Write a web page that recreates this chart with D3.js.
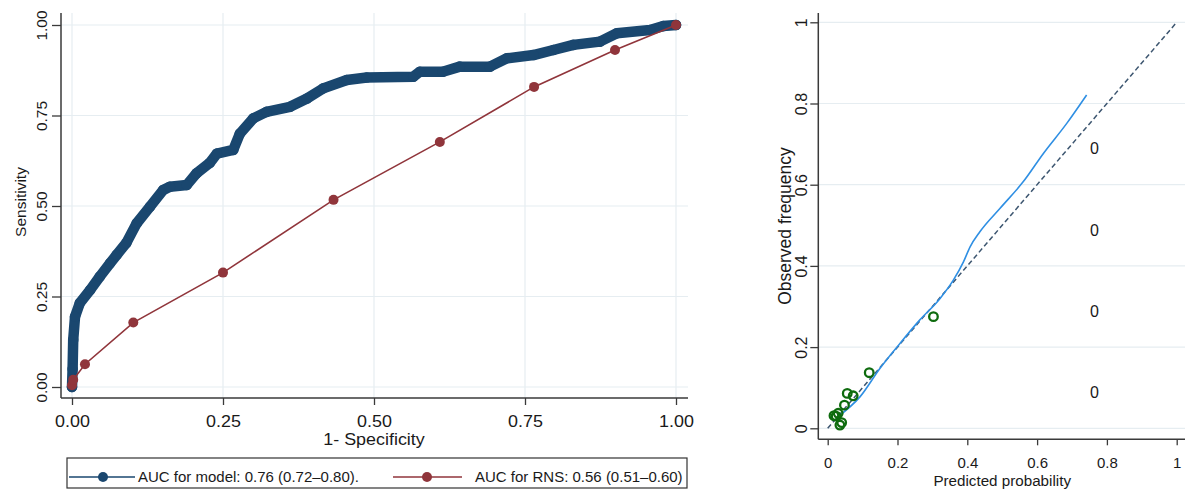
<!DOCTYPE html>
<html><head><meta charset="utf-8">
<script src="https://cdn.jsdelivr.net/npm/d3@7"></script>
<style>
body{margin:0;background:#fff}
svg{display:block}
text{font-family:"Liberation Sans",Arial,sans-serif;fill:#1a1a1a}
</style>
</head><body>
<svg id="c" width="1185" height="490"></svg>
<script>
// ---------- data ----------
const rocTicks = [0, 0.25, 0.5, 0.75, 1];
const rocTickLabels = ["0.00", "0.25", "0.50", "0.75", "1.00"];
const rocXTitle = "1- Specificity";
const rocYTitle = "Sensitivity";

const modelFpr = [0, 0.001, 0.002, 0.005, 0.013, 0.03, 0.046, 0.063, 0.074, 0.09, 0.107, 0.129, 0.151, 0.162, 0.19, 0.206, 0.228, 0.24, 0.267, 0.278, 0.30, 0.322, 0.361, 0.389, 0.416, 0.455, 0.488, 0.565, 0.576, 0.614, 0.642, 0.692, 0.72, 0.764, 0.797, 0.83, 0.874, 0.902, 0.957, 0.979, 1];
const modelTpr = [0, 0.05, 0.13, 0.194, 0.232, 0.268, 0.305, 0.342, 0.365, 0.398, 0.452, 0.498, 0.544, 0.553, 0.558, 0.59, 0.619, 0.645, 0.655, 0.70, 0.742, 0.76, 0.774, 0.797, 0.825, 0.848, 0.855, 0.857, 0.871, 0.871, 0.885, 0.885, 0.908, 0.917, 0.931, 0.945, 0.954, 0.977, 0.986, 0.997, 1];

const rnsFpr = [0, 0.002, 0.0215, 0.1015, 0.25, 0.433, 0.609, 0.765, 0.899, 1];
const rnsTpr = [0.005, 0.02, 0.063, 0.178, 0.316, 0.517, 0.677, 0.829, 0.931, 1];

const legendLabels = ["AUC for model: 0.76 (0.72\u20130.80).", "AUC for RNS: 0.56 (0.51\u20130.60)"];

const calTicks = [0, 0.2, 0.4, 0.6, 0.8, 1];
const calTickLabels = ["0", "0.2", "0.4", "0.6", "0.8", "1"];
const calXTitle = "Predicted probability";
const calYTitle = "Observed frequency";

const decilePred = [0.018, 0.024, 0.030, 0.035, 0.040, 0.048, 0.056, 0.073, 0.119, 0.303];
const decileObs  = [0.031, 0.030, 0.037, 0.008, 0.014, 0.057, 0.086, 0.080, 0.137, 0.275];

const lowessX = [0.030, 0.093, 0.150, 0.207, 0.264, 0.322, 0.360, 0.389, 0.408, 0.436, 0.494, 0.560, 0.618, 0.685, 0.742];
const lowessY = [0.029, 0.078, 0.148, 0.209, 0.267, 0.320, 0.365, 0.410, 0.447, 0.484, 0.542, 0.607, 0.677, 0.751, 0.821];

const refLine = [0, 1];

const annotX = [0.764, 0.764, 0.764, 0.764];
const annotY = [0.690, 0.488, 0.289, 0.090];
const annotText = ["0", "0", "0", "0"];

// ---------- styles ----------
const NAVY = "#1a476f", MAROON = "#90353b", GRID = "#e6edf1", AXIS = "#3a3a3a";
const GREEN = "#0e6b0e", BLUE = "#2f8fe3", DASH = "#3d5670";

const svg = d3.select("#c");
svg.append("rect").attr("width", 1185).attr("height", 490).attr("fill", "#fff");

// ================= LEFT: ROC =================
const L = {left: 61, right: 688, top: 13, bottom: 398};
const xL = d3.scaleLinear().domain([0, 1]).range([72, 676]);
const yL = d3.scaleLinear().domain([0, 1]).range([387, 25]);
const gL = svg.append("g");

// grid
gL.append("g").selectAll("line.v").data(rocTicks).join("line")
  .attr("x1", d => xL(d)).attr("x2", d => xL(d)).attr("y1", L.top).attr("y2", L.bottom)
  .attr("stroke", GRID).attr("stroke-width", 1.2);
gL.append("g").selectAll("line.h").data(rocTicks).join("line")
  .attr("y1", d => yL(d)).attr("y2", d => yL(d)).attr("x1", L.left).attr("x2", L.right)
  .attr("stroke", GRID).attr("stroke-width", 1.2);

// axes
const axL = gL.append("g").attr("transform", `translate(${L.left},0)`)
  .call(d3.axisLeft(yL).tickValues(rocTicks).tickFormat((d, i) => rocTickLabels[i]).tickSize(9).tickSizeOuter(0));
axL.select(".domain").remove();
axL.selectAll(".tick line").attr("stroke", AXIS).attr("stroke-width", 1.3);
axL.selectAll(".tick text").attr("x", 0).attr("y", -14).attr("dy", null)
  .attr("transform", "rotate(-90)").attr("text-anchor", "middle")
  .style("font-size", "15.5px").attr("fill", "#1a1a1a");

const axB = gL.append("g").attr("transform", `translate(0,${L.bottom})`)
  .call(d3.axisBottom(xL).tickValues(rocTicks).tickFormat((d, i) => rocTickLabels[i]).tickSize(7).tickSizeOuter(0));
axB.select(".domain").remove();
axB.selectAll(".tick line").attr("stroke", AXIS).attr("stroke-width", 1.3);
axB.selectAll(".tick text").attr("y", 0).attr("dy", null)
  .attr("transform", "translate(0,29) scale(1.12,1)")
  .style("font-size", "16px").attr("fill", "#1a1a1a");

gL.append("line").attr("x1", L.left).attr("x2", L.left).attr("y1", L.top).attr("y2", L.bottom)
  .attr("stroke", AXIS).attr("stroke-width", 1.5);
gL.append("line").attr("x1", L.left).attr("x2", L.right).attr("y1", L.bottom).attr("y2", L.bottom)
  .attr("stroke", AXIS).attr("stroke-width", 1.5);

// titles
gL.append("text").attr("transform", `translate(${xL(0.5)},445) scale(1.12,1)`)
  .attr("text-anchor", "middle").style("font-size", "16px").text(rocXTitle);
gL.append("text").attr("transform", `translate(26,202) rotate(-90)`)
  .attr("text-anchor", "middle").style("font-size", "15.5px").text(rocYTitle);

// model curve
const modelPts = modelFpr.map((f, i) => [f, modelTpr[i]]);
const lineL = d3.line().x(d => xL(d[0])).y(d => yL(d[1]));
gL.append("path").datum(modelPts).attr("d", lineL)
  .attr("fill", "none").attr("stroke", NAVY).attr("stroke-width", 10.5)
  .attr("stroke-linejoin", "round").attr("stroke-linecap", "round");
gL.append("g").selectAll("circle").data(modelPts).join("circle")
  .attr("cx", d => xL(d[0])).attr("cy", d => yL(d[1])).attr("r", 5.3).attr("fill", NAVY);

// RNS curve
const rnsPts = rnsFpr.map((f, i) => [f, rnsTpr[i]]);
gL.append("path").datum(rnsPts).attr("d", lineL)
  .attr("fill", "none").attr("stroke", MAROON).attr("stroke-width", 1.6);
gL.append("g").selectAll("circle").data(rnsPts).join("circle")
  .attr("cx", d => xL(d[0])).attr("cy", d => yL(d[1])).attr("r", 5).attr("fill", MAROON);

// legend
const lg = svg.append("g");
lg.append("rect").attr("x", 67).attr("y", 458).attr("width", 620).attr("height", 30)
  .attr("fill", "#fff").attr("stroke", "#333").attr("stroke-width", 1.2);
const legItems = [
  {color: NAVY, x1: 69, x2: 135, cx: 103, tx: 138},
  {color: MAROON, x1: 393, x2: 462, cx: 427, tx: 475}
];
legItems.forEach((it, i) => {
  lg.append("line").attr("x1", it.x1).attr("x2", it.x2).attr("y1", 477).attr("y2", 477)
    .attr("stroke", it.color).attr("stroke-width", 1.6);
  lg.append("circle").attr("cx", it.cx).attr("cy", 477).attr("r", 5).attr("fill", it.color);
  lg.append("text").attr("x", it.tx).attr("y", 482).style("font-size", "15px").text(legendLabels[i]);
});

// ================= RIGHT: Calibration =================
const R = {left: 818.3, right: 1185, top: 13, bottom: 439.3};
const xR = d3.scaleLinear().domain([0, 1]).range([827.7, 1176.7]);
const yR = d3.scaleLinear().domain([0, 1]).range([428.3, 22.3]);
const gR = svg.append("g");

gR.append("g").selectAll("line").data(calTicks).join("line")
  .attr("y1", d => yR(d)).attr("y2", d => yR(d)).attr("x1", R.left).attr("x2", R.right)
  .attr("stroke", GRID).attr("stroke-width", 1.2);

const axRL = gR.append("g").attr("transform", `translate(${R.left},0)`)
  .call(d3.axisLeft(yR).tickValues(calTicks).tickFormat((d, i) => calTickLabels[i]).tickSize(8).tickSizeOuter(0));
axRL.select(".domain").remove();
axRL.selectAll(".tick line").attr("stroke", AXIS).attr("stroke-width", 1.3);
axRL.selectAll(".tick text").attr("x", 0).attr("y", -11).attr("dy", null)
  .attr("transform", "rotate(-90)").attr("text-anchor", "middle")
  .style("font-size", "16px").attr("fill", "#1a1a1a");

const axRB = gR.append("g").attr("transform", `translate(0,${R.bottom})`)
  .call(d3.axisBottom(xR).tickValues(calTicks).tickFormat((d, i) => calTickLabels[i]).tickSize(6).tickSizeOuter(0));
axRB.select(".domain").remove();
axRB.selectAll(".tick line").attr("stroke", AXIS).attr("stroke-width", 1.3);
axRB.selectAll(".tick text").attr("y", 29).attr("dy", null)
  .style("font-size", "15px").attr("fill", "#1a1a1a");

gR.append("line").attr("x1", R.left).attr("x2", R.left).attr("y1", R.top).attr("y2", R.bottom)
  .attr("stroke", AXIS).attr("stroke-width", 1.5);
gR.append("line").attr("x1", R.left).attr("x2", R.right).attr("y1", R.bottom).attr("y2", R.bottom)
  .attr("stroke", AXIS).attr("stroke-width", 1.5);

gR.append("text").attr("x", xR(0.5)).attr("y", 486).attr("text-anchor", "middle")
  .style("font-size", "15.2px").text(calXTitle);
gR.append("text").attr("transform", `translate(791,226) rotate(-90)`)
  .attr("text-anchor", "middle").style("font-size", "17.5px").text(calYTitle);

// reference diagonal
const lineR = d3.line().x(d => xR(d[0])).y(d => yR(d[1]));
gR.append("path").datum(refLine.map(v => [v, v])).attr("d", lineR)
  .attr("fill", "none").attr("stroke", DASH).attr("stroke-width", 1.5).attr("stroke-dasharray", "5,3");

// lowess
const lowPts = lowessX.map((x, i) => [x, lowessY[i]]);
gR.append("path").datum(lowPts).attr("d", lineR.curve(d3.curveMonotoneX))
  .attr("fill", "none").attr("stroke", BLUE).attr("stroke-width", 1.6);

// decile points
gR.append("g").selectAll("circle").data(decilePred.map((p, i) => [p, decileObs[i]])).join("circle")
  .attr("cx", d => xR(d[0])).attr("cy", d => yR(d[1])).attr("r", 4.3)
  .attr("fill", "none").attr("stroke", GREEN).attr("stroke-width", 2.3);

// annotations
gR.append("g").selectAll("text").data(annotText).join("text")
  .attr("x", (d, i) => xR(annotX[i])).attr("y", (d, i) => yR(annotY[i]))
  .attr("dy", "0.36em").attr("text-anchor", "middle").style("font-size", "16px").text(d => d);
</script>
</body></html>
